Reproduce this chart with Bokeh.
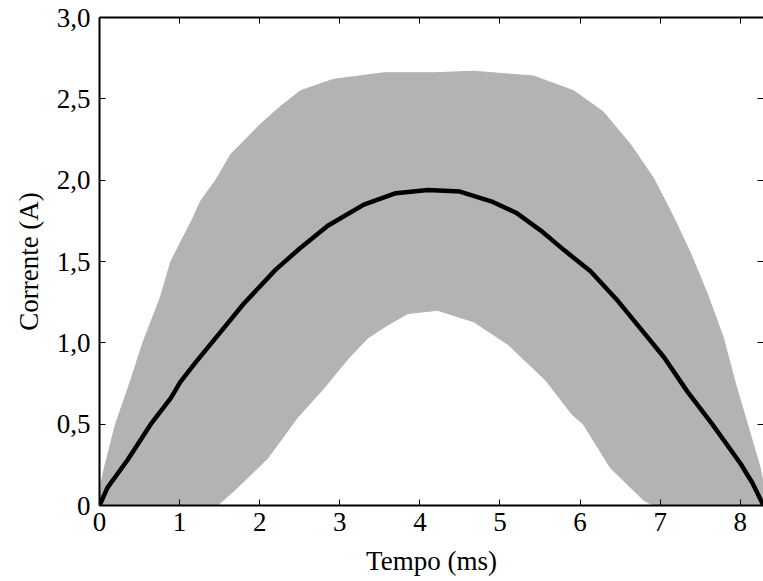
from bokeh.plotting import figure
from bokeh.models import LinearAxis, FixedTicker, Range1d
from bokeh.embed import file_html
from bokeh.resources import INLINE

# Ripple envelope of the inductor current (upper and lower bounds), in A vs ms
t_upper = [0.0, 0.07, 0.2, 0.39, 0.54, 0.76, 0.89, 1.17, 1.26, 1.45, 1.64, 2.0,
           2.25, 2.51, 2.92, 3.55, 4.17, 4.67, 5.42, 5.92, 6.29, 6.63, 6.92,
           7.17, 7.38, 7.59, 7.79, 7.94, 8.09, 8.25, 8.3]
i_upper = [0.1, 0.25, 0.5, 0.77, 1.0, 1.28, 1.5, 1.77, 1.87, 2.0, 2.16, 2.34,
           2.45, 2.55, 2.62, 2.66, 2.66, 2.67, 2.64, 2.55, 2.42, 2.22, 2.01,
           1.77, 1.55, 1.30, 1.03, 0.75, 0.5, 0.23, 0.1]

t_lower = [0.0, 1.47, 1.68, 2.1, 2.47, 2.8, 3.1, 3.35, 3.6, 3.85, 4.22, 4.67,
           5.1, 5.57, 5.9, 6.04, 6.38, 6.8, 6.92, 8.3]
i_lower = [0.0, 0.0, 0.09, 0.29, 0.54, 0.72, 0.90, 1.03, 1.11, 1.18, 1.20,
           1.13, 0.99, 0.77, 0.56, 0.5, 0.23, 0.03, 0.0, 0.0]

# Average current
t_mean = [0.0, 0.1, 0.35, 0.64, 0.89, 1.01, 1.2, 1.5, 1.8, 2.2, 2.5, 2.85, 3.3,
          3.7, 4.1, 4.5, 4.89, 5.2, 5.51, 5.8, 6.13, 6.45, 6.75, 7.05, 7.34,
          7.65, 8.0, 8.15, 8.29]
i_mean = [0.0, 0.11, 0.28, 0.5, 0.66, 0.76, 0.88, 1.06, 1.24, 1.45, 1.58, 1.72,
          1.85, 1.92, 1.94, 1.93, 1.87, 1.80, 1.69, 1.57, 1.44, 1.27, 1.09,
          0.91, 0.70, 0.50, 0.26, 0.14, 0.0]

x_ticks = [0, 1, 2, 3, 4, 5, 6, 7, 8]
y_ticks = [0, 0.5, 1.0, 1.5, 2.0, 2.5, 3.0]
y_tick_labels = ["0", "0,5", "1,0", "1,5", "2,0", "2,5", "3,0"]

FONT = "'Liberation Serif', 'Times New Roman', serif"
FS = "27px"

p = figure(width=763, height=581, output_backend="svg", toolbar_location=None,
           x_range=Range1d(0, 8.29), y_range=Range1d(0, 3.0),
           x_axis_label="Tempo (ms)", y_axis_label="Corrente (A)")
p.frame_width = 664
p.frame_height = 488
p.min_border_left = 99
p.min_border_right = 0
p.min_border_top = 17
p.min_border_bottom = 76
p.xgrid.visible = False
p.ygrid.visible = False
p.outline_line_color = None
p.background_fill_color = "white"
p.border_fill_color = "white"

# gray ripple band
p.patch(x=t_upper + t_lower[::-1], y=i_upper + i_lower[::-1],
        fill_color="#b3b3b3", line_color="#b3b3b3", line_width=1)
# average current
p.line(t_mean, i_mean, line_color="black", line_width=4.5)


def style(ax, ticks):
    ax.ticker = FixedTicker(ticks=ticks)
    ax.major_tick_in = 6
    ax.major_tick_out = 0
    ax.minor_tick_in = 0
    ax.minor_tick_out = 0
    ax.major_tick_line_width = 1
    ax.major_tick_line_color = "black"
    ax.axis_line_width = 2
    ax.axis_line_color = "black"
    ax.major_label_text_font = FONT
    ax.major_label_text_font_size = FS
    ax.major_label_text_color = "black"
    ax.axis_label_text_font = FONT
    ax.axis_label_text_font_size = FS
    ax.axis_label_text_font_style = "normal"
    ax.axis_label_text_color = "black"


style(p.xaxis[0], x_ticks)
style(p.yaxis[0], y_ticks)
p.xaxis[0].major_label_overrides = {t: str(t) for t in x_ticks}
p.yaxis[0].major_label_overrides = dict(zip(y_ticks, y_tick_labels))
p.xaxis[0].major_label_standoff = 7
p.yaxis[0].major_label_standoff = 9
p.xaxis[0].axis_label_standoff = 12
p.yaxis[0].axis_label_standoff = 10

# frame ticks on the top and right sides, without labels
top = LinearAxis()
style(top, x_ticks)
top.major_label_overrides = {t: "" for t in x_ticks}
top.major_label_standoff = 0
p.add_layout(top, "above")

right = LinearAxis()
style(right, y_ticks)
right.major_label_overrides = {t: "" for t in y_ticks}
right.major_label_standoff = 0
right.axis_line_color = None
p.add_layout(right, "right")

open("out.html", "w").write(file_html(p, INLINE))
